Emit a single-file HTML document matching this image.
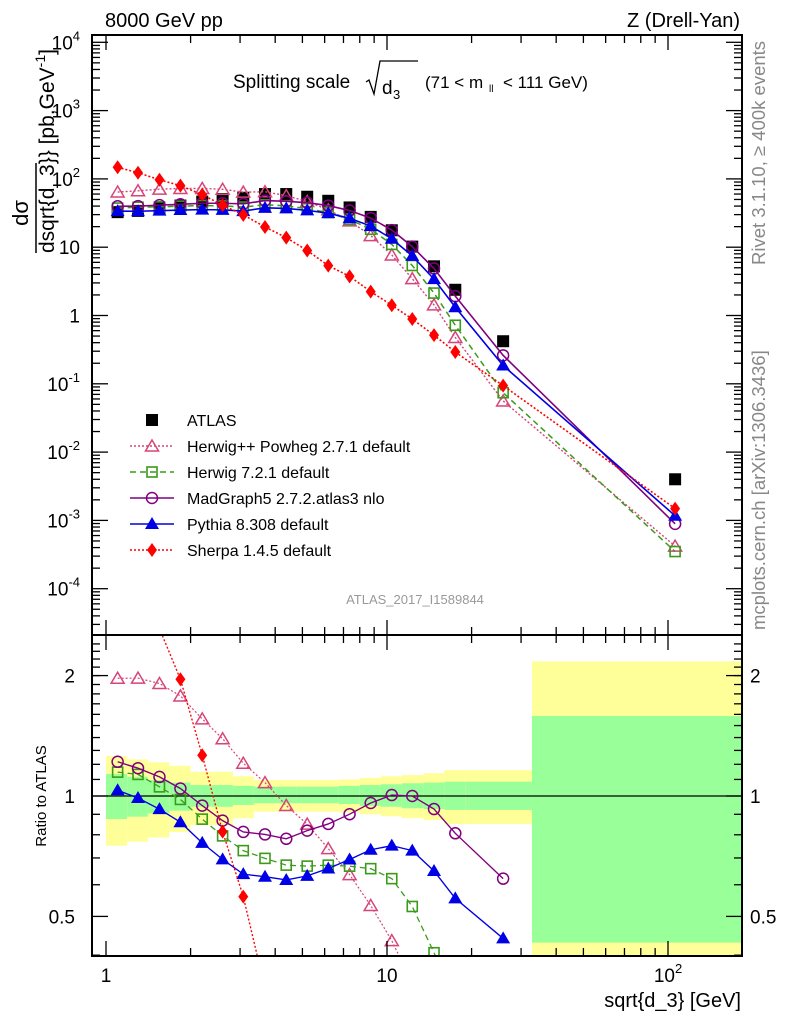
<!DOCTYPE html>
<html><head><meta charset="utf-8"><style>
html,body{margin:0;padding:0;background:#fff;overflow:hidden;width:786px;height:1024px}
svg{display:block;font-family:"Liberation Sans",sans-serif}
</style></head><body>
<svg id="c" width="786" height="1024" viewBox="0 0 786 1024" xmlns="http://www.w3.org/2000/svg">
<defs>
<clipPath id="cm"><rect x="92" y="35" width="650" height="600"/></clipPath>
<clipPath id="cr"><rect x="92" y="635" width="650" height="321"/></clipPath>
</defs>
<g id="bands" clip-path="url(#cr)"></g>
<g id="marks"></g>
<rect x="92" y="35" width="650" height="600" fill="none" stroke="#000" stroke-width="2"/>
<rect x="92" y="635" width="650" height="321" fill="none" stroke="#000" stroke-width="2"/>
<g id="ticks"></g>
<text x="105" y="27" font-size="20">8000 GeV pp</text>
<text x="740" y="27" font-size="20" text-anchor="end">Z (Drell-Yan)</text>
<g>
<text x="233" y="88" font-size="19">Splitting scale</text>
<path d="M366,82 l3,-2 l5,14 l6,-33 h38" fill="none" stroke="#000" stroke-width="1.3"/>
<text x="382" y="94" font-size="19">d</text><text x="393" y="99" font-size="13">3</text>
<text x="425" y="88" font-size="17">(71 &lt; m</text><text x="489" y="92" font-size="10">ll</text><text x="503" y="88" font-size="17">&lt; 111 GeV)</text>
</g>
<g transform="translate(0,255) rotate(-90)">
<text x="42" y="28" font-size="22" text-anchor="middle">dσ</text>
<line x1="2" y1="36" x2="92" y2="36" stroke="#000" stroke-width="1.5"/>
<text x="2" y="54" font-size="21">dsqrt{d_3}} [pb,GeV<tspan font-size="14" dy="-9">-1</tspan><tspan dy="9">]</tspan></text>
</g>
<text transform="translate(46,796) rotate(-90)" font-size="15" text-anchor="middle">Ratio to ATLAS</text>
<text x="741" y="1007" font-size="20" text-anchor="end">sqrt{d_3} [GeV]</text>
<text transform="translate(765,265) rotate(-90)" font-size="18.5" fill="#888">Rivet 3.1.10, ≥ 400k events</text>
<text transform="translate(765,630) rotate(-90)" font-size="18.5" fill="#888">mcplots.cern.ch [arXiv:1306.3436]</text>
<text x="415" y="604" font-size="13" fill="#999" text-anchor="middle">ATLAS_2017_I1589844</text>
<g id="legend"></g>
</svg>
<script>
const xs = [1.1,1.3,1.55,1.84,2.2,2.6,3.08,3.68,4.38,5.2,6.18,7.36,8.75,10.4,12.3,14.7,17.5,25.9,106];
const atlas = [32.6,34,37,40.7,46.5,50.7,53,60,60,54.8,47.8,38.2,27.8,17.7,10.2,5.25,2.38,0.42,0.004];
const herwigpp = [64.2,67,70.7,72.4,72.5,70.5,64,64.8,56.8,46.6,35.3,24.3,14.8,7.7,3.46,1.43,0.477,0.056,0.00042];
const herwig7 = [37.4,38.5,39,39.9,40.7,40.3,38.7,41.9,40.3,36.6,32.1,25.5,18.3,11,5.4,2.13,0.72,0.074,0.00035];
const madgraph = [39.7,39.9,41.3,42.5,44,44,43.1,48.1,46.9,44.9,40.7,34.4,26.7,17.8,10.2,4.87,1.92,0.261,0.00089];
const pythia = [33.7,33.6,34.3,35,35.5,35.2,33.8,37.7,37,34.6,31.5,26.5,20.4,13.3,7.45,3.41,1.32,0.185,0.00117];
const sherpa = [148,123,97,79.7,58.8,41.3,29.7,19.8,13.8,8.95,5.38,3.74,2.24,1.41,0.888,0.515,0.292,0.094,0.00149];
const binEdges = [1,1.19,1.41,1.68,2,2.38,2.83,3.36,4,4.76,5.66,6.73,8,9.51,11.3,13.5,16,19,32.8,200];
const yellowUp = [1.259,1.235,1.214,1.19,1.15,1.15,1.12,1.096,1.096,1.096,1.096,1.1,1.11,1.12,1.128,1.14,1.161,1.161,2.17];
const yellowDn = [0.751,0.769,0.788,0.813,0.846,0.846,0.88,0.914,0.914,0.914,0.914,0.91,0.9,0.89,0.88,0.87,0.851,0.851,0.3];
const greenUp = [1.135,1.117,1.096,1.08,1.065,1.065,1.06,1.055,1.055,1.055,1.055,1.06,1.065,1.07,1.076,1.08,1.086,1.086,1.585];
const greenDn = [0.876,0.888,0.905,0.919,0.94,0.94,0.95,0.959,0.959,0.959,0.959,0.955,0.945,0.94,0.932,0.928,0.923,0.923,0.43];
const yTickExp = ["-4","-3","-2","-1","","","2","3","4"];
const yTickBase = ["10","10","10","10","1","10","10","10","10"];
const NS="http://www.w3.org/2000/svg";
const X = v => 106 + 281*Math.log10(v);
const Y = v => 315.5 - 68.3*Math.log10(v);
const R = v => 796 - 400*Math.log10(v);
function mk(tag, attrs, parent){const e=document.createElementNS(NS,tag);for(const k in attrs)e.setAttribute(k,attrs[k]);parent.appendChild(e);return e;}
const marks=document.getElementById('marks'), bands=document.getElementById('bands'), ticks=document.getElementById('ticks'), legend=document.getElementById('legend');
for(let i=0;i<binEdges.length-1;i++){
  const x1=X(binEdges[i]), x2=X(binEdges[i+1]);
  const y1=mk('rect',{x:x1,y:R(yellowUp[i]),width:x2-x1,height:R(yellowDn[i])-R(yellowUp[i]),fill:'#ffff99'},bands);
  
  
  const g1=mk('rect',{x:x1,y:R(greenUp[i]),width:x2-x1,height:R(greenDn[i])-R(greenUp[i]),fill:'#99ff99'},bands);
  
  
}
const unity=mk('line',{x1:92,x2:742,y1:R(1),y2:R(1),stroke:'#000','stroke-width':1.3},bands);


function marker(kind,color,cx,cy,parent){
  const s=6;
  if(kind==='sq') return mk('rect',{x:cx-s,y:cy-s,width:2*s,height:2*s,fill:'#000'},parent);
  if(kind==='osq') return mk('rect',{x:cx-s+1,y:cy-s+1,width:2*s-2,height:2*s-2,fill:'none',stroke:color,'stroke-width':1.6},parent);
  if(kind==='otri') return mk('path',{d:`M${cx},${cy-6}L${cx+6.5},${cy+5}L${cx-6.5},${cy+5}Z`,fill:'none',stroke:color,'stroke-width':1.5},parent);
  if(kind==='tri') return mk('path',{d:`M${cx},${cy-7}L${cx+7},${cy+5}L${cx-7},${cy+5}Z`,fill:color},parent);
  if(kind==='circ') return mk('circle',{cx:cx,cy:cy,r:5.5,fill:'none',stroke:color,'stroke-width':1.5},parent);
  if(kind==='dia') return mk('path',{d:`M${cx},${cy-7}L${cx+5},${cy}L${cx},${cy+7}L${cx-5},${cy}Z`,fill:color},parent);
}
const series=[
 {name:'herwigpp',vals:herwigpp,color:'#d6457a',dash:'2,2',w:1.4,m:'otri',label:'Herwig++ Powheg 2.7.1 default'},
 {name:'herwig7',vals:herwig7,color:'#3a9a1a',dash:'6,4',w:1.5,m:'osq',label:'Herwig 7.2.1 default'},
 {name:'madgraph',vals:madgraph,color:'#800080',dash:'',w:1.6,m:'circ',label:'MadGraph5 2.7.2.atlas3 nlo'},
 {name:'pythia',vals:pythia,color:'#0000e6',dash:'',w:1.6,m:'tri',label:'Pythia 8.308 default'},
 {name:'sherpa',vals:sherpa,color:'#ff0000',dash:'2,2',w:1.6,m:'dia',label:'Sherpa 1.4.5 default'}
];
const gA=mk('g',{'clip-path':'url(#cm)'},marks);


xs.forEach((x,i)=>{const p=marker('sq','#000',X(x),Y(atlas[i]),gA);
 
 });
series.forEach(s=>{
  const gm=mk('g',{'clip-path':'url(#cm)'},marks);
  
  
  const pl=mk('polyline',{points:xs.map((x,i)=>X(x)+','+Y(s.vals[i])).join(' '),fill:'none',stroke:s.color,'stroke-width':s.w,'stroke-dasharray':s.dash},gm);
  
  
  xs.forEach((x,i)=>{const p=marker(s.m,s.color,X(x),Y(s.vals[i]),gm);
    
    });
  const gr=mk('g',{'clip-path':'url(#cr)'},marks);
  
  
  const rs=s.vals.map((v,i)=>v/atlas[i]);
  const n=xs.length-1;
  const rl=mk('polyline',{points:xs.slice(0,n).map((x,i)=>X(x)+','+R(rs[i])).join(' '),fill:'none',stroke:s.color,'stroke-width':s.w*0.85,'stroke-dasharray':s.dash},gr);
  
  
  xs.slice(0,n).forEach((x,i)=>{const p=marker(s.m,s.color,X(x),R(rs[i]),gr);
    
    });
});
function tl(x1,y1,x2,y2){mk('line',{x1,y1,x2,y2,stroke:'#000','stroke-width':1.3},ticks);}
for(let d=0;d<=2;d++)for(let k=1;k<=9;k++){
  const v=k*Math.pow(10,d), x=X(v); if(x<92||x>742)continue;
  const L=k===1?15:8;
  tl(x,35,x,35+L); tl(x,635,x,635-L); tl(x,635,x,635+L); tl(x,956,x,956-L);
}
for(let d=-5;d<=4;d++)for(let k=1;k<=9;k++){
  const v=k*Math.pow(10,d), y=Y(v); if(y<35||y>635)continue;
  const L=k===1?16:8;
  tl(92,y,92+L,y); tl(742,y,742-L,y);
}
yTickBase.forEach((b,i)=>{const y=Y(Math.pow(10,i-4));
  const ex=yTickExp[i];
  const e=mk('text',{x:80,y:y+7,'font-size':19,'text-anchor':'end'},ticks);
  
  
  if(ex){e.textContent=b;const t=mk('tspan',{'font-size':13,dy:-9},e);t.textContent=ex;}
  else e.textContent=b;});
const rt=[0.4,0.5,0.6,0.7,0.8,0.9,1,2];
rt.forEach(v=>{const y=R(v);const L=(v===0.5||v===1||v===2)?16:8;tl(92,y,92+L,y);tl(742,y,742-L,y);});
for(let v=1.1;v<2.5;v+=0.1){const y=R(v);if(y>635){tl(92,y,100,y);tl(742,y,734,y);}}
[["2",2],["1",1],["0.5",0.5]].forEach(([t,v])=>{
  const a=mk('text',{x:75,y:R(v)+7,'font-size':19,'text-anchor':'end'},ticks);a.textContent=t;
  
  
  const b=mk('text',{x:750,y:R(v)+7,'font-size':19},ticks);b.textContent=t;
  
  });
[["1","",1],["10","",10],["10","2",100]].forEach(([t,ex,v])=>{
  const e=mk('text',{x:X(v),y:982,'font-size':19,'text-anchor':'middle'},ticks);e.textContent=t;
  if(ex){const s=mk('tspan',{'font-size':13,dy:-9},e);s.textContent=ex;}
  
  });
const ly=[420,446,472,498,524,550];
const la=mk('g',{},legend);


marker('sq','#000',152,ly[0],la);
const lat=mk('text',{x:187,y:ly[0]+6,'font-size':16},la);lat.textContent='ATLAS';
series.forEach((s,i)=>{
  const g=mk('g',{},legend);
  
  
  const y=ly[i+1];
  mk('line',{x1:130,x2:174,y1:y,y2:y,stroke:s.color,'stroke-width':s.w,'stroke-dasharray':s.dash},g);
  marker(s.m,s.color,152,y,g);
  const t=mk('text',{x:187,y:y+6,'font-size':16},g);t.textContent=s.label;
});
</script>
</body></html>
